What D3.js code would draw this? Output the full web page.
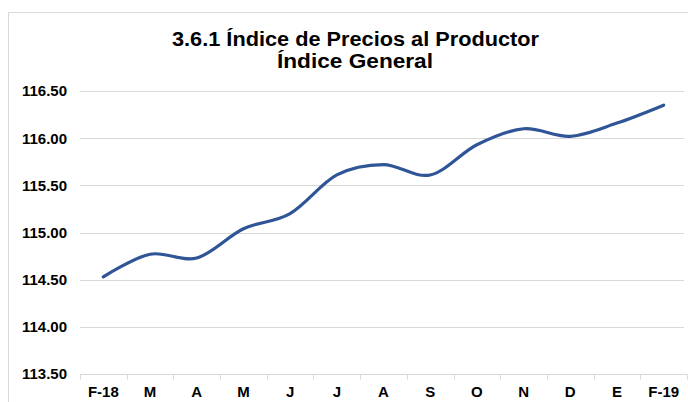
<!DOCTYPE html>
<html>
<head>
<meta charset="utf-8">
<script src="https://cdn.jsdelivr.net/npm/d3@7"></script>
<style>
  html, body { margin: 0; padding: 0; background: #fff; }
  svg { display: block; }
  text { font-family: "Liberation Sans", Arial, sans-serif; font-weight: bold; fill: #000; }
</style>
</head>
<body>
<svg id="chart" width="688" height="402"></svg>
<script>
const titleLines = ["3.6.1 Índice de Precios al Productor", "Índice General"];
const categories = ["F-18", "M", "A", "M", "J", "J", "A", "S", "O", "N", "D", "E", "F-19"];
const values = [114.53, 114.77, 114.73, 115.04, 115.20, 115.61, 115.72, 115.61, 115.93, 116.10, 116.02, 116.16, 116.35];
const yTicks = [113.5, 114.0, 114.5, 115.0, 115.5, 116.0, 116.5];

const svg = d3.select("#chart");
const W = 688, H = 402;

// chart frame
svg.append("rect")
  .attr("x", 8.5).attr("y", 12.5)
  .attr("width", W + 20).attr("height", H + 20)
  .attr("fill", "#fff").attr("stroke", "#d9d9d9").attr("stroke-width", 1);

const plot = { left: 80, right: 687, top: 91, bottom: 374 };

const x = d3.scaleBand()
  .domain(d3.range(categories.length))
  .range([plot.left, plot.right])
  .paddingInner(0).paddingOuter(0);

const y = d3.scaleLinear()
  .domain([113.5, 116.5])
  .range([plot.bottom, plot.top]);

// gridlines
svg.append("g")
  .selectAll("line")
  .data(yTicks.filter(d => d > 113.5))
  .join("line")
  .attr("x1", plot.left).attr("x2", 684)
  .attr("y1", d => Math.round(y(d)) + 0.5).attr("y2", d => Math.round(y(d)) + 0.5)
  .attr("stroke", "#d9d9d9").attr("stroke-width", 1);

// y axis labels
svg.append("g")
  .selectAll("text")
  .data(yTicks)
  .join("text")
  .attr("x", 67)
  .attr("y", d => y(d))
  .attr("dy", "0.36em")
  .attr("text-anchor", "end")
  .style("font-size", "15px")
  .text(d => d3.format(".2f")(d));

// x axis line and ticks
const axisY = Math.round(y(113.5)) + 0.5;
svg.append("line")
  .attr("x1", plot.left).attr("x2", plot.right)
  .attr("y1", axisY).attr("y2", axisY)
  .attr("stroke", "#d9d9d9").attr("stroke-width", 1);

const tickPositions = d3.range(categories.length + 1).map(i =>
  i < categories.length ? x(i) : x(categories.length - 1) + x.bandwidth());
svg.append("g")
  .selectAll("line")
  .data(tickPositions)
  .join("line")
  .attr("x1", d => Math.round(d) + 0.5).attr("x2", d => Math.round(d) + 0.5)
  .attr("y1", axisY).attr("y2", axisY + 5)
  .attr("stroke", "#d9d9d9").attr("stroke-width", 1);

// x labels
svg.append("g")
  .selectAll("text")
  .data(categories)
  .join("text")
  .attr("x", (d, i) => x(i) + x.bandwidth() / 2)
  .attr("y", 397)
  .attr("text-anchor", "middle")
  .style("font-size", "15px")
  .text(d => d);

// line
const line = d3.line()
  .x((d, i) => x(i) + x.bandwidth() / 2)
  .y(d => y(d))
  .curve(d3.curveCardinal.tension(0));

svg.append("path")
  .datum(values)
  .attr("d", line)
  .attr("fill", "none")
  .attr("stroke", "#2F5597")
  .attr("stroke-width", 3.2)
  .attr("stroke-linecap", "round")
  .attr("stroke-linejoin", "round");

// title
svg.append("text")
  .attr("x", 172).attr("y", 46)
  .attr("textLength", 367).attr("lengthAdjust", "spacingAndGlyphs")
  .style("font-size", "20px")
  .text(titleLines[0]);
svg.append("text")
  .attr("x", 277).attr("y", 68)
  .attr("textLength", 156).attr("lengthAdjust", "spacingAndGlyphs")
  .style("font-size", "20px")
  .text(titleLines[1]);
</script>
</body>
</html>
